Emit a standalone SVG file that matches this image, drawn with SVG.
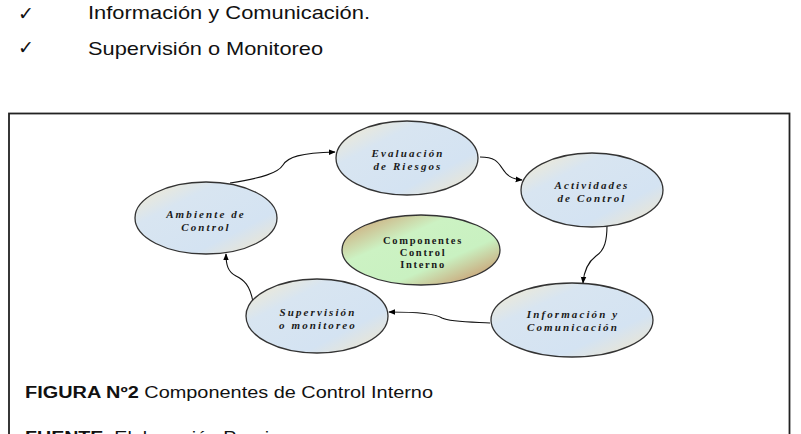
<svg xmlns="http://www.w3.org/2000/svg" width="801" height="434" viewBox="0 0 801 434">
<defs>
<linearGradient id="gBlue" x1="0" y1="0" x2="1" y2="1">
<stop offset="0" stop-color="#f6ebcc"/>
<stop offset="0.3" stop-color="#d8e5f1"/>
<stop offset="0.7" stop-color="#d4e3f2"/>
<stop offset="1" stop-color="#f4e7c8"/>
</linearGradient>
<linearGradient id="gGreen" x1="0" y1="0" x2="1" y2="1">
<stop offset="0" stop-color="#cf9466"/>
<stop offset="0.35" stop-color="#ccf2c3"/>
<stop offset="0.65" stop-color="#c9f1c1"/>
<stop offset="1" stop-color="#cc7f55"/>
</linearGradient>
<marker id="arr" viewBox="0 0 10 10" refX="9" refY="5" markerWidth="7" markerHeight="7" orient="auto" markerUnits="userSpaceOnUse">
<path d="M0,1 L10,5 L0,9 Z" fill="#000"/>
</marker>
</defs>
<style>
.top{font-family:"Liberation Sans",Arial,sans-serif;font-size:18.5px;fill:#111}
.chk{font-family:"DejaVu Sans",sans-serif;font-size:19px;fill:#111}
.node{stroke:#333;stroke-width:1.3}
.lbl{font-family:"Liberation Serif","Times New Roman",serif;font-size:11px;font-weight:bold;font-style:italic;letter-spacing:2.1px;fill:#1a1a1a;text-anchor:middle}
.lblc{font-family:"Liberation Serif","Times New Roman",serif;font-size:10.5px;font-weight:bold;letter-spacing:1.7px;fill:#1a1a1a;text-anchor:middle}
.edge{fill:none;stroke:#111;stroke-width:1.1;marker-end:url(#arr)}
.cap{font-family:"Liberation Sans",Arial,sans-serif;font-size:16px;fill:#111}
</style>
<rect width="801" height="434" fill="#fff"/>
<text class="chk" x="18" y="20">✓</text>
<text class="top" x="88" y="19" textLength="282" lengthAdjust="spacingAndGlyphs">Información y Comunicación.</text>
<text class="chk" x="18" y="54">✓</text>
<text class="top" x="88" y="55" textLength="235" lengthAdjust="spacingAndGlyphs">Supervisión o Monitoreo</text>
<rect x="9" y="113.5" width="780.5" height="340" fill="none" stroke="#222" stroke-width="1.8"/>
<g id="connectors">
<path class="edge" d="M230,183 C262,178 278,173 283,165 C288,157 300,153 335,152"/>
<path class="edge" d="M480,157 C495,157 498,162 502,168 C507,176 512,179 522,180"/>
<path class="edge" d="M607,225 C607,240 605,250 596,256 C588,262 584,270 583,283"/>
<path class="edge" d="M490,323 C470,322 450,322 442,318 C436,314 420,312 389,312"/>
<path class="edge" d="M253,302 C250,285 244,280 236,276 C228,272 226,265 226,254"/>
</g>
<g id="evaluacion">
<ellipse class="node" cx="407" cy="158" rx="71" ry="37" fill="url(#gBlue)"/>
<text class="lbl" x="408" y="157">Evaluación</text>
<text class="lbl" x="408" y="170">de Riesgos</text>
</g>
<g id="ambiente">
<ellipse class="node" cx="206" cy="218" rx="71" ry="36" fill="url(#gBlue)"/>
<text class="lbl" x="206" y="218">Ambiente de</text>
<text class="lbl" x="206" y="231">Control</text>
</g>
<g id="actividades">
<ellipse class="node" cx="592" cy="190" rx="71" ry="37" fill="url(#gBlue)"/>
<text class="lbl" x="592" y="189">Actividades</text>
<text class="lbl" x="592" y="202">de Control</text>
</g>
<g id="componentes">
<ellipse class="node" cx="421" cy="250" rx="79" ry="35" fill="url(#gGreen)"/>
<text class="lblc" x="423" y="244">Componentes</text>
<text class="lblc" x="423" y="256">Control</text>
<text class="lblc" x="423" y="268">Interno</text>
</g>
<g id="supervision">
<ellipse class="node" cx="317" cy="316" rx="71" ry="37" fill="url(#gBlue)"/>
<text class="lbl" x="318" y="316">Supervisión</text>
<text class="lbl" x="318" y="329">o monitoreo</text>
</g>
<g id="informacion">
<ellipse class="node" cx="572" cy="320" rx="81" ry="37" fill="url(#gBlue)"/>
<text class="lbl" x="573" y="318">Información y</text>
<text class="lbl" x="573" y="331">Comunicación</text>
</g>
<text class="cap" x="25" y="398" textLength="408" lengthAdjust="spacingAndGlyphs"><tspan font-weight="bold">FIGURA Nº2</tspan> Componentes de Control Interno</text>
<text class="cap" x="25" y="443" textLength="255" lengthAdjust="spacingAndGlyphs"><tspan font-weight="bold">FUENTE</tspan>: Elaboración Propia</text>
</svg>
